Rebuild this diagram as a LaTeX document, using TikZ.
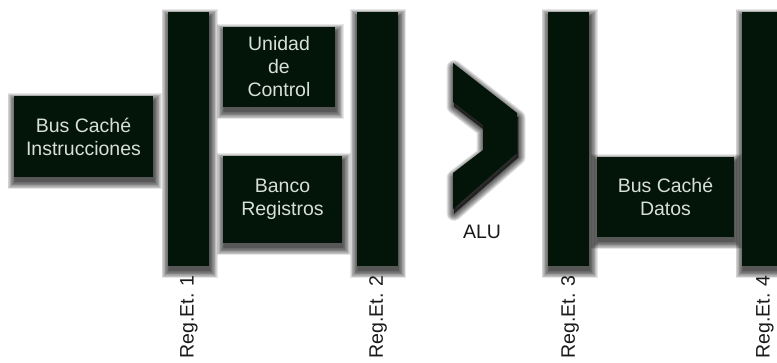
\documentclass[tikz,border=0pt]{standalone}
\usepackage{fontspec}
\setmainfont{Liberation Sans}
\usetikzlibrary{backgrounds}
\definecolor{boxfill}{HTML}{031408}
\definecolor{boxtext}{HTML}{D8E0D8}
\tikzset{
  blk/.style={fill=boxfill, inner sep=0pt, outer sep=0pt},
  unit/.style={blk, text=boxtext, align=center, font=\fontsize{19.5}{23}\selectfont},
  stagereg/.style={blk, minimum width=41pt, minimum height=254pt},
  reglabel/.style={rotate=90, anchor=east, font=\fontsize{19.5}{23}\selectfont, text=black!90, inner sep=0pt},
  shadowlayer/.style={fill=black, opacity=0.09}
}
\begin{document}
\begin{tikzpicture}[x=1pt,y=-1pt]
\clip (0,0) rectangle (777,362);
\node[unit, minimum width=139pt, minimum height=81pt] (bci) at (83.5,136.5) {Bus Caché\\Instrucciones};
\node[stagereg] (r1) at (188.5,139) {};
\node[unit, minimum width=112pt, minimum height=80pt] (uc) at (279,67) {Unidad\\de\\Control};
\node[unit, minimum width=119pt, minimum height=87pt] (br) at (282.5,199.5) {Banco\\Registros};
\node[stagereg] (r2) at (377,139) {};
\node[stagereg] (r3) at (568.5,139) {};
\node[unit, minimum width=137pt, minimum height=80pt] (bcd) at (665.5,197) {Bus Caché\\Datos};
\node[stagereg] (r4) at (762.5,139) {};
\fill[boxfill] (453,63) -- (517,113) -- (517,153) -- (453,209) -- (453,173) -- (483,150) -- (483,125) -- (453,102) -- cycle;
\node[font=\fontsize{19.5}{23}\selectfont, text=black!90, inner sep=0pt] (alu) at (482,232) {ALU};
\node[reglabel] (l1) at (189,275) {Reg.Et. 1};
\node[reglabel] (l2) at (378,275) {Reg.Et. 2};
\node[reglabel] (l3) at (570,275) {Reg.Et. 3};
\node[reglabel] (l4) at (765,275) {Reg.Et. 4};
\begin{scope}[on background layer]
  \fill[white] (0,0) rectangle (777,362);
  \foreach \n in {bci,r1,uc,br,r2,r3,bcd,r4} {
    \foreach \i in {0,0.75,...,7.5} {
      \fill[shadowlayer] ([shift={(1-\i,4.5-\i)}]\n.north west) rectangle ([shift={(1+\i,4.5+\i)}]\n.south east);
    }
  }
  \foreach \i in {0,0.75,...,7.5} {
    \pgfmathsetmacro\lw{2*\i}
    \filldraw[shadowlayer, draw=black, line width=\lw pt, line join=round, shift={(1,4.5)}]
      (453,63) -- (517,113) -- (517,153) -- (453,209) -- (453,173) -- (483,150) -- (483,125) -- (453,102) -- cycle;
  }
\end{scope}
\end{tikzpicture}
\end{document}
